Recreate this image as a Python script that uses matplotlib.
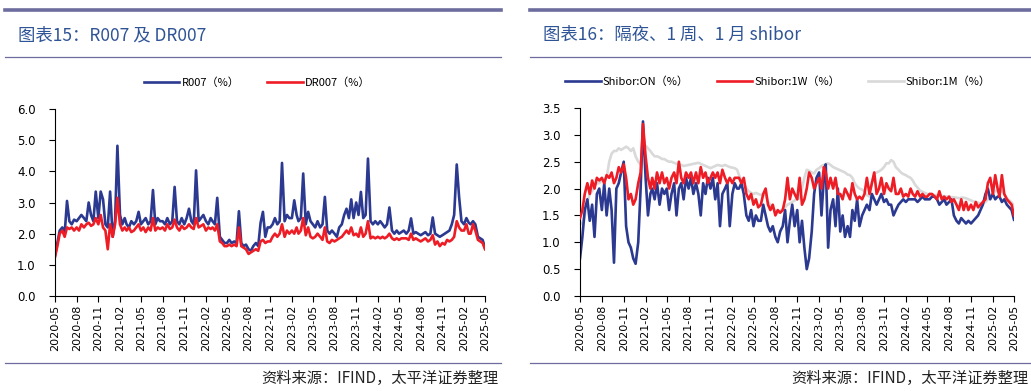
import matplotlib
matplotlib.use("Agg")
import matplotlib.pyplot as plt
import matplotlib.dates as mdates
from matplotlib.lines import Line2D
import pandas as pd

plt.rcParams['font.family'] = ['Noto Sans CJK SC', 'DejaVu Sans']

# readings: three per month (days 1, 11, 21) from 2020-05 to 2025-04, plus 2025-05-01
r007 = [
    1.3, 1.7, 2.1, 2.2, 2.0, 3.05, 2.4, 2.3, 2.45, 2.4, 2.5, 2.6, 2.5, 2.4, 3.0, 2.6, 2.4, 3.35, 2.5, 3.35, 3.1, 2.3, 2.2, 3.35,
    1.9, 2.4, 4.82, 2.6, 2.3, 2.5, 2.3, 2.2, 2.4, 2.3, 2.4, 2.7, 2.3, 2.4, 2.5, 2.3, 2.4, 3.4, 2.3, 2.5, 2.4, 2.4, 2.3, 2.5,
    2.3, 2.4, 3.5, 2.4, 2.3, 2.5, 2.3, 2.5, 2.8, 2.4, 2.3, 4.03,
    2.4, 2.5, 2.6, 2.4, 2.3, 2.5, 2.4, 2.3, 3.15, 1.9, 1.8, 1.7, 1.7, 1.8, 1.7, 1.75, 1.7, 2.72, 1.7, 1.6, 1.65, 1.5, 1.45, 1.6,
    1.7, 1.6, 2.35, 2.7, 1.9, 2.2, 2.2, 2.3, 2.5, 2.3, 2.4, 4.27,
    2.4, 2.6, 2.5, 2.5, 3.07, 2.6, 2.4, 2.5, 3.93, 2.3, 2.7, 2.4, 2.3, 2.2, 2.4, 2.2, 2.3, 3.18, 2.1, 2.0, 2.1, 2.0, 1.9, 2.2,
    2.3, 2.6, 2.8, 2.5, 3.1, 2.5, 3.0, 2.6, 3.34, 2.5, 2.6, 4.41,
    2.4, 2.3, 2.4, 2.3, 2.4, 2.3, 2.2, 2.3, 2.84, 2.1, 2.0, 2.1, 2.0, 2.05, 2.1, 2.0, 2.1, 2.49, 2.0, 2.05, 2.0, 1.95, 2.0, 2.05,
    1.95, 2.0, 2.52, 2.0, 1.95, 1.9, 1.95, 2.0, 2.05, 2.1, 2.3, 2.6,
    4.22, 3.18, 2.4, 2.3, 2.5, 2.35, 2.3, 2.4, 2.3, 1.9, 1.85, 1.8, 1.55,
]
dr007 = [
    1.25, 1.6, 2.0, 2.1, 1.9, 2.2, 2.15, 2.2, 2.1, 2.2, 2.1, 2.3, 2.2, 2.3, 2.35, 2.25, 2.3, 2.5, 2.3, 2.6, 2.2, 2.1, 1.5, 2.3,
    1.9, 2.3, 3.15, 2.3, 2.1, 2.2, 2.1, 2.2, 2.05, 2.1, 2.2, 2.3, 2.1, 2.2, 2.05, 2.2, 2.1, 2.5, 2.1, 2.2, 2.15, 2.2, 2.1, 2.3,
    2.15, 2.2, 2.45, 2.2, 2.1, 2.25, 2.15, 2.2, 2.3, 2.2, 2.15, 2.5,
    2.2, 2.25, 2.3, 2.1, 2.2, 2.15, 2.2, 2.1, 2.3, 1.75, 1.7, 1.6, 1.6, 1.65, 1.6, 1.65, 1.6, 2.2, 1.6, 1.55, 1.5, 1.35, 1.4, 1.45,
    1.5, 1.45, 1.75, 1.8, 1.7, 1.75, 1.75, 1.9, 2.0, 1.9, 2.0, 2.3,
    1.9, 2.1, 2.0, 2.1, 2.0, 2.2, 2.0, 2.1, 2.5, 1.95, 2.2, 1.9, 1.85, 1.9, 2.0, 1.9, 1.8, 2.2, 1.75, 1.7, 1.8, 1.75, 1.8, 1.85,
    1.9, 2.0, 2.1, 2.0, 2.2, 1.95, 2.0, 1.9, 2.2, 1.9, 2.0, 2.4,
    1.85, 1.9, 1.85, 1.9, 1.85, 1.9, 1.85, 1.9, 2.0, 1.85, 1.8, 1.85, 1.8, 1.85, 1.85, 1.85, 1.8, 2.0, 1.8, 1.85, 1.8, 1.75, 1.8, 1.85,
    1.75, 1.8, 1.95, 1.65, 1.75, 1.6, 1.7, 1.65, 1.8, 1.75, 1.8, 1.9,
    2.4, 2.2, 2.1, 2.1, 2.3, 2.0, 2.0, 2.3, 2.1, 1.8, 1.75, 1.7, 1.5,
]
shibor_on = [
    0.7, 1.1, 1.6, 1.8, 1.4, 1.7, 1.1, 1.9, 2.0, 1.6, 2.1, 1.5, 2.0, 1.6, 0.62, 2.0, 2.1, 2.3, 2.5, 1.3, 1.0, 0.9, 0.7, 0.6,
    1.0, 2.0, 3.25, 2.2, 1.5, 1.9, 2.0, 1.8, 2.1, 1.7, 2.0, 1.9, 2.0, 1.6, 1.9, 2.1, 1.5, 2.0, 2.1, 1.8, 2.2, 2.0, 2.2, 1.9,
    2.1, 1.9, 1.5, 2.1, 1.9, 2.2, 2.0, 2.2, 1.8, 2.1, 1.3, 1.9,
    2.0, 2.1, 1.3, 1.9, 2.1, 2.0, 2.0, 2.1, 1.9, 1.5, 1.4, 1.6, 1.3, 1.5, 1.4, 1.4, 1.7, 1.5, 1.3, 1.2, 1.3, 1.1, 1.0, 1.2,
    1.3, 1.6, 1.0, 1.4, 1.7, 1.3, 1.6, 1.0, 1.4, 0.9, 0.5, 0.7,
    1.2, 1.9, 2.2, 2.3, 1.5, 2.2, 2.45, 0.9, 1.6, 1.8, 1.3, 2.0, 1.2, 1.5, 1.1, 1.3, 1.1, 1.6, 1.4, 1.8, 1.3, 1.5, 1.6, 1.7,
    1.6, 1.9, 1.8, 1.7, 1.8, 1.9, 1.75, 1.8, 1.7, 1.7, 1.5, 1.6,
    1.7, 1.75, 1.8, 1.75, 1.8, 1.8, 1.8, 1.8, 1.75, 1.8, 1.85, 1.8, 1.8, 1.8, 1.85, 1.85, 1.8, 1.7, 1.75, 1.8, 1.7, 1.75, 1.8, 1.5,
    1.4, 1.35, 1.45, 1.4, 1.35, 1.4, 1.35, 1.4, 1.45, 1.5, 1.6, 1.7,
    1.9, 2.0, 1.8, 1.9, 1.8, 1.85, 1.85, 1.75, 1.8, 1.7, 1.65, 1.6, 1.42,
]
shibor_1w = [
    1.45, 1.6, 1.9, 2.1, 1.9, 2.15, 2.0, 2.2, 2.15, 2.2, 2.1, 2.25, 2.2, 2.3, 2.1, 2.2, 2.4, 2.3, 2.45, 2.2, 1.8, 1.9, 1.7, 1.8,
    2.1, 2.3, 3.2, 2.6, 2.2, 2.0, 2.2, 2.0, 2.3, 2.1, 2.3, 2.1, 2.2, 2.0, 2.2, 2.3, 2.1, 2.5, 2.2, 2.1, 2.3, 2.2, 2.3, 2.1,
    2.3, 2.1, 2.4, 2.2, 2.3, 2.1, 2.2, 2.3, 2.2, 2.3, 2.1, 2.35,
    2.2, 2.1, 2.2, 2.1, 2.2, 2.2, 2.2, 2.1, 2.2, 1.9, 1.8, 1.9, 1.7, 1.8, 1.65, 1.7, 1.9, 2.0, 1.7, 1.6, 1.7, 1.5, 1.6, 1.55,
    1.6, 1.8, 2.2, 1.8, 2.0, 1.9, 1.8, 2.2, 1.7, 1.8, 2.0, 2.3,
    2.2, 2.0, 2.1, 2.2, 2.0, 2.4, 2.3, 2.0, 2.2, 2.0, 2.2, 1.9, 1.9, 1.8, 2.0, 1.9, 1.8, 2.1, 1.9, 1.8, 1.85, 1.8, 1.9, 2.2,
    1.9, 2.1, 2.3, 1.9, 2.0, 2.2, 1.9, 2.1, 2.0, 1.95, 2.2, 1.9,
    1.9, 2.0, 1.85, 1.9, 1.85, 2.0, 1.9, 1.85, 1.95, 1.85, 1.9, 1.85, 1.85, 1.9, 1.9, 1.85, 1.8, 1.95, 1.8, 1.85, 1.8, 1.85, 1.75, 1.8,
    1.7, 1.6, 1.8, 1.6, 1.75, 1.6, 1.7, 1.6, 1.75, 1.65, 1.7, 1.75,
    1.8, 2.1, 2.2, 1.9, 2.25, 2.0, 1.85, 2.25, 1.9, 1.8, 1.75, 1.7, 1.5,
]
shibor_1m = [
    1.35, 1.35, 1.5, 1.75, 1.9, 1.95, 2.05, 2.1, 2.1, 2.15, 2.15, 2.2, 2.5, 2.65, 2.7, 2.7, 2.75, 2.72, 2.75, 2.78, 2.75, 2.7, 2.75, 2.6,
    2.5, 2.45, 2.75, 2.8, 2.75, 2.7, 2.65, 2.6, 2.6, 2.58, 2.55, 2.55, 2.52, 2.5, 2.5, 2.48, 2.46, 2.45, 2.44, 2.42, 2.43, 2.44, 2.45, 2.46,
    2.47, 2.48, 2.46, 2.44, 2.42, 2.4, 2.38, 2.4, 2.42, 2.44, 2.43, 2.42,
    2.44, 2.42, 2.4, 2.39, 2.38, 2.35, 2.25, 2.15, 2.1, 2.0, 1.95, 1.92, 1.9, 1.92, 1.9, 1.88, 1.9, 1.88, 1.75, 1.7, 1.65, 1.58, 1.54, 1.58,
    1.62, 1.65, 1.7, 1.72, 1.75, 1.78, 1.8, 1.82, 2.0, 2.2, 2.35, 2.33,
    2.3, 2.28, 2.35, 2.38, 2.42, 2.44, 2.46, 2.47, 2.44, 2.4, 2.38, 2.36, 2.34, 2.32, 2.3, 2.26, 2.25, 2.2, 2.1, 2.04, 2.0, 1.98, 1.95, 1.88,
    1.85, 2.1, 2.28, 2.3, 2.32, 2.35, 2.4, 2.47, 2.47, 2.53, 2.5, 2.4,
    2.35, 2.3, 2.27, 2.25, 2.22, 2.2, 2.15, 2.07, 2.02, 1.96, 1.94, 1.92, 1.9, 1.89, 1.88, 1.88, 1.87, 1.87, 1.86, 1.86, 1.85, 1.85, 1.84, 1.84,
    1.83, 1.82, 1.83, 1.83, 1.82, 1.8, 1.78, 1.76, 1.75, 1.74, 1.72, 1.73,
    1.75, 1.8, 1.85, 1.9, 1.95, 1.97, 1.97, 1.95, 1.9, 1.82, 1.78, 1.74, 1.68,
]

dates = [pd.Timestamp(p.year, p.month, d)
         for p in pd.period_range("2020-05", "2025-04", freq="M") for d in (1, 11, 21)]
dates.append(pd.Timestamp("2025-05-01"))
ticks = pd.date_range("2020-05-01", "2025-05-01", freq="3MS")

BLUE, RED, GRAY = "#2b3990", "#ee1c25", "#d9d9d9"
RULE = "#6c6c9e"
TITLE_C = "#2f5496"
LW = 1.9

W, H = 1031, 391
fig = plt.figure(figsize=(W / 100, H / 100), dpi=100)


def fx(px):
    return px / W


def fy(py):
    return 1 - py / H


def frame(x0, x1, title):
    fig.add_artist(Line2D([fx(x0), fx(x1)], [fy(10), fy(10)], color=RULE, lw=2.6))
    fig.add_artist(Line2D([fx(x0), fx(x1)], [fy(57), fy(57)], color=RULE, lw=0.9))
    fig.add_artist(Line2D([fx(x0), fx(x1)], [fy(363), fy(363)], color=RULE, lw=0.9))
    fig.text(fx(x0 + 13), fy(35), title, fontsize=12.5, color=TITLE_C, va="center")
    fig.text(fx(x1 - 3), fy(378), "资料来源：IFIND，太平洋证券整理", fontsize=11,
             style="italic", ha="right", va="center", color="#222222")


def style_axes(ax, ymax, step):
    ax.set_xlim(dates[0], dates[-1])
    ax.set_ylim(0, ymax)
    ax.set_yticks([i * step for i in range(int(round(ymax / step)) + 1)])
    ax.yaxis.set_major_formatter(plt.FormatStrFormatter("%.1f"))
    ax.set_xticks(ticks)
    ax.xaxis.set_major_formatter(mdates.DateFormatter("%Y-%m"))
    for s in ("top", "right"):
        ax.spines[s].set_visible(False)
    ax.tick_params(axis="x", rotation=90, labelsize=8, length=4, width=0.8, pad=2)
    ax.tick_params(axis="y", labelsize=8.5, length=4, width=0.8, pad=10)
    for lab in ax.get_xticklabels() + ax.get_yticklabels():
        lab.set_family("DejaVu Sans")


# left panel
frame(5, 501, "图表15：R007 及 DR007")
ax1 = fig.add_axes([fx(55), fy(296), fx(485 - 55), (296 - 109) / H])
ax1.plot(dates, r007, color=BLUE, lw=LW, label="R007（%）")
ax1.plot(dates, dr007, color=RED, lw=LW, label="DR007（%）")
style_axes(ax1, 6.0, 1.0)
ax1.legend(loc="center", bbox_to_anchor=(fx(257), fy(83)), bbox_transform=fig.transFigure,
           ncol=2, frameon=False, fontsize=8, handlelength=3.2, columnspacing=2.5,
           handletextpad=0.2)

# right panel
frame(530, 1031, "图表16：隔夜、1 周、1 月 shibor")
ax2 = fig.add_axes([fx(580), fy(296), fx(1014 - 580), (296 - 108) / H])
ax2.plot(dates, shibor_1m, color=GRAY, lw=LW, label="Shibor:1M（%）", zorder=1)
ax2.plot(dates, shibor_on, color=BLUE, lw=LW, label="Shibor:ON（%）", zorder=2)
ax2.plot(dates, shibor_1w, color=RED, lw=LW, label="Shibor:1W（%）", zorder=3)
style_axes(ax2, 3.5, 0.5)
h, l = ax2.get_legend_handles_labels()
order = [1, 2, 0]
ax2.legend([h[i] for i in order], [l[i] for i in order], loc="center",
           bbox_to_anchor=(fx(778), fy(82)), bbox_transform=fig.transFigure,
           ncol=3, frameon=False, fontsize=8, handlelength=3.2, columnspacing=2.5,
           handletextpad=0.2)

fig.savefig("out.png", dpi=100)
